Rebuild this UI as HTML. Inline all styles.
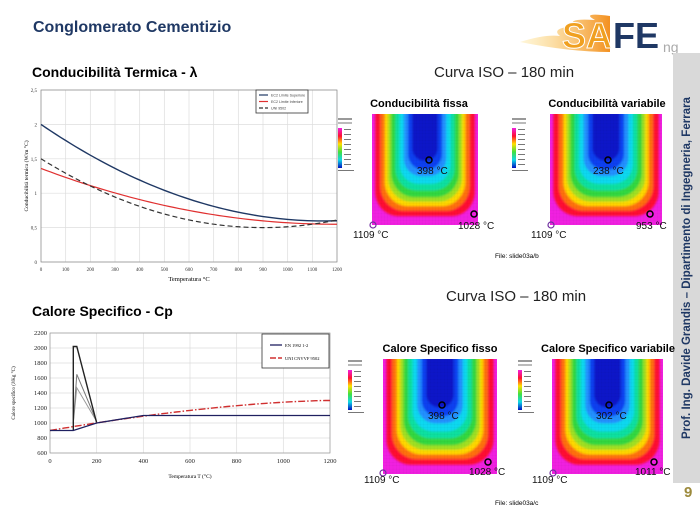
<!DOCTYPE html>
<html><head><meta charset="utf-8">
<style>
body{margin:0;width:700px;height:523px;background:#fff;position:relative;overflow:hidden;font-family:"Liberation Sans",sans-serif}
.a{position:absolute;white-space:nowrap}
.h{font-weight:bold;color:#000}
</style></head><body>
<svg width="0" height="0" style="position:absolute">
<defs>
<filter id="bl" x="-10%" y="-10%" width="120%" height="120%"><feGaussianBlur stdDeviation="0.9"/></filter>
<clipPath id="cp"><rect x="0" y="0" width="100" height="100"/></clipPath>
<pattern id="grid" width="3" height="3" patternUnits="userSpaceOnUse"><path d="M3 0V3H0" fill="none" stroke="#000" stroke-opacity="0.12" stroke-width="0.3"/></pattern>
<g id="hm">
<g clip-path="url(#cp)">
<rect x="0" y="0" width="100" height="100" fill="#f020e0"/>
<g filter="url(#bl)">
<rect x="3" y="-60" width="94" height="152" rx="22" fill="#ff1030"/>
<rect x="8" y="-60" width="84" height="147" rx="22" fill="#ff7010"/>
<rect x="12" y="-60" width="76" height="143" rx="22" fill="#ffd800"/>
<rect x="15" y="-60" width="70" height="139" rx="22" fill="#a0e020"/>
<rect x="18" y="-60" width="64" height="135" rx="22" fill="#30d840"/>
<rect x="22" y="-60" width="56" height="129" rx="20" fill="#10e0a0"/>
<rect x="26" y="-60" width="48" height="123" rx="18" fill="#10d8f0"/>
<rect x="30" y="-60" width="40" height="116" rx="16" fill="#2090ff"/>
<rect x="34" y="-60" width="32" height="110" rx="14" fill="#1040f0"/>
<rect x="38" y="-60" width="24" height="102" rx="11" fill="#0818c8"/>
</g>
<rect x="0" y="0" width="100" height="100" fill="url(#grid)"/>
</g>
</g>
<g id="cb">
<rect x="0" y="0" width="14" height="2" fill="#999"/>
<rect x="0" y="4" width="14" height="2" fill="#bbb"/>
<rect x="0" y="10" width="4" height="40" fill="url(#cbg)"/>
<g fill="#777"><rect x="6" y="11" width="7" height="1"/><rect x="6" y="16" width="7" height="1"/><rect x="6" y="21" width="7" height="1"/><rect x="6" y="26" width="7" height="1"/><rect x="6" y="31" width="7" height="1"/><rect x="6" y="36" width="7" height="1"/><rect x="6" y="41" width="7" height="1"/><rect x="6" y="46" width="7" height="1"/><rect x="0" y="52" width="16" height="1"/></g>
</g>
<linearGradient id="cbg" x1="0" y1="0" x2="0" y2="1"><stop offset="0" stop-color="#f020e0"/><stop offset=".2" stop-color="#ff1030"/><stop offset=".4" stop-color="#ffe000"/><stop offset=".6" stop-color="#40e040"/><stop offset=".8" stop-color="#10d8e8"/><stop offset="1" stop-color="#0010c0"/></linearGradient>
<linearGradient id="fl" x1="0" y1="0" x2="1" y2="0"><stop offset="0" stop-color="#fde080" stop-opacity="0.3"/><stop offset="1" stop-color="#f39020"/></linearGradient>
</defs>
</svg>

<div class="a" style="left:33px;top:19px;font-size:16px;font-weight:bold;color:#1f3864">Conglomerato Cementizio</div>
<svg class="a" style="left:500px;top:8px" width="180" height="50">
<path d="M20 34 Q45 26 60 28 Q50 20 75 18 Q65 10 95 12 Q80 4 110 8 L110 44 Q70 44 20 34Z" fill="url(#fl)"/>
<text x="62" y="40" font-family="Liberation Sans" font-weight="bold" font-size="36" fill="#f0a020" stroke="#fff" stroke-width="1">SA</text>
<text x="113" y="40" font-family="Liberation Sans" font-weight="bold" font-size="36" fill="#1f3864">FE</text>
<text x="163" y="44" font-family="Liberation Sans" font-size="14" fill="#aaa">ng</text>
</svg>

<div class="a" style="left:673px;top:53px;width:27px;height:430px;background:#d9d9d9"></div>
<div class="a" style="left:687px;top:268px;transform:translate(-50%,-50%) rotate(-90deg);font-size:11.5px;font-weight:bold;color:#1f3864">Prof. Ing. Davide Grandis – Dipartimento di Ingegneria, Ferrara</div>
<div class="a" style="left:684px;top:484px;font-size:15px;font-weight:bold;color:#9c8a3c">9</div>

<div class="a h" style="left:32px;top:64px;font-size:14px">Conducibilità Termica - λ</div>
<div class="a h" style="left:32px;top:303px;font-size:14px">Calore Specifico - Cp</div>
<div class="a" style="left:434px;top:64px;font-size:15px;color:#222">Curva ISO – 180 min</div>
<div class="a" style="left:446px;top:288px;font-size:15px;color:#222">Curva ISO – 180 min</div>

<svg class="a" style="left:0;top:80px" width="345" height="205" id="c1"></svg>
<svg class="a" style="left:0;top:325px" width="345" height="165" id="c2"></svg>

<svg class="a" style="left:330px;top:90px" width="345" height="175" font-family="Liberation Sans">
<text x="89" y="17" font-size="11" font-weight="bold" text-anchor="middle">Conducibilità fissa</text>
<text x="277" y="17" font-size="11" font-weight="bold" text-anchor="middle">Conducibilità variabile</text>
<use href="#cb" transform="translate(8,28)"/>
<use href="#hm" transform="translate(42,24) scale(1.06,1.11)"/>
<use href="#cb" transform="translate(182,28)"/>
<use href="#hm" transform="translate(220,24) scale(1.12,1.11)"/>
<g fill="none" stroke="#000" stroke-width="1.5"><circle cx="99" cy="70" r="3"/><circle cx="144" cy="124" r="3"/><circle cx="278" cy="70" r="3"/><circle cx="320" cy="124" r="3"/></g>
<g fill="none" stroke="#7030a0" stroke-width="1.2"><circle cx="43" cy="135" r="3"/><circle cx="221" cy="135" r="3"/></g>
<g font-size="10" fill="#111"><text x="87" y="84">398 °C</text><text x="128" y="139">1028 °C</text><text x="263" y="84">238 °C</text><text x="306" y="139">953 °C</text><text x="23" y="148">1109 °C</text><text x="201" y="148">1109 °C</text></g>
<text x="165" y="168" font-size="6.5">File: slide03a/b</text>
</svg>
<svg class="a" style="left:340px;top:335px" width="335" height="175" font-family="Liberation Sans">
<text x="100" y="17" font-size="11" font-weight="bold" text-anchor="middle">Calore Specifico fisso</text>
<text x="268" y="17" font-size="11" font-weight="bold" text-anchor="middle">Calore Specifico variabile</text>
<use href="#cb" transform="translate(8,25)"/>
<use href="#hm" transform="translate(43,24) scale(1.14,1.15)"/>
<use href="#cb" transform="translate(178,25)"/>
<use href="#hm" transform="translate(212,24) scale(1.11,1.15)"/>
<g fill="none" stroke="#000" stroke-width="1.5"><circle cx="102" cy="70" r="3"/><circle cx="148" cy="127" r="3"/><circle cx="269" cy="70" r="3"/><circle cx="314" cy="127" r="3"/></g>
<g fill="none" stroke="#7030a0" stroke-width="1.2"><circle cx="43" cy="138" r="3"/><circle cx="213" cy="138" r="3"/></g>
<g font-size="10" fill="#111"><text x="88" y="84">398 °C</text><text x="129" y="140">1028 °C</text><text x="256" y="84">302 °C</text><text x="295" y="140">1011 °C</text><text x="24" y="148">1109 °C</text><text x="192" y="148">1109 °C</text></g>
<text x="155" y="170" font-size="6.5">File: slide03a/c</text>
</svg>

<script>
var NS="http://www.w3.org/2000/svg";
function el(s,t,a,txt){var e=document.createElementNS(NS,t);for(var k in a)e.setAttribute(k,a[k]);if(txt!==undefined)e.textContent=txt;s.appendChild(e);return e;}
(function(){
var s=document.getElementById('c1');var x0=41,x1=337,y0=182,y1=10;
function X(t){return x0+(x1-x0)*t/1200}function Y(v){return y0-(y0-y1)*v/2.5}
for(var t=0;t<=1200;t+=100){el(s,'line',{x1:X(t),x2:X(t),y1:y1,y2:y0,stroke:'#ddd','stroke-width':0.7});el(s,'text',{x:X(t),y:y0+9,'font-size':5,'text-anchor':'middle','font-family':'Liberation Serif',fill:'#333'},t);}
for(var v=0;v<=2.5;v+=0.5){el(s,'line',{x1:x0,x2:x1,y1:Y(v),y2:Y(v),stroke:'#ddd','stroke-width':0.7});el(s,'text',{x:x0-4,y:Y(v)+2,'font-size':5,'text-anchor':'end','font-family':'Liberation Serif',fill:'#333'},(v==0?'0':String(v).replace('.',',')));}
el(s,'rect',{x:x0,y:y1,width:x1-x0,height:y0-y1,fill:'none',stroke:'#888','stroke-width':0.7});
function path(f){var d='';for(var t=0;t<=1200;t+=20){d+=(t?'L':'M')+X(t).toFixed(1)+' '+Y(f(t)).toFixed(2);}return d;}
el(s,'path',{d:path(function(t){var u=t/100;return 2-0.2451*u+0.0107*u*u;}),fill:'none',stroke:'#1f3864','stroke-width':1.4});
el(s,'path',{d:path(function(t){var u=t/100;return 1.36-0.136*u+0.0057*u*u;}),fill:'none',stroke:'#e03030','stroke-width':1.2});
el(s,'path',{d:path(function(t){var u=t/100;return 0.5+(u-9)*(u-9)/81;}),fill:'none',stroke:'#333','stroke-width':1.2,'stroke-dasharray':'5,3'});
el(s,'rect',{x:256,y:10,width:52,height:23,fill:'#fff',stroke:'#333','stroke-width':0.8});
var lg=[['#1f3864','EC2 Limite Superiore',''],['#e03030','EC2 Limite Inferiore',''],['#333','UNI 9502','4,2']];
lg.forEach(function(l,i){var y=15+i*6.5;el(s,'line',{x1:259,x2:268,y1:y,y2:y,stroke:l[0],'stroke-width':1.2,'stroke-dasharray':l[2]});el(s,'text',{x:271,y:y+1.5,'font-size':3.6,fill:'#444'},l[1]);});
el(s,'text',{x:(x0+x1)/2,y:y0+19,'font-size':6.5,'text-anchor':'middle','font-family':'Liberation Serif'},'Temperatura °C');
el(s,'text',{x:0,y:0,'font-size':5.5,'text-anchor':'middle','font-family':'Liberation Serif',transform:'translate(28,'+((y0+y1)/2)+') rotate(-90)'},'Conducibilità termica (W/m °C)');
})();
(function(){
var s=document.getElementById('c2');var x0=50,x1=330,y0=128,y1=8;
function X(t){return x0+(x1-x0)*t/1200}function Y(v){return y0-(y0-y1)*(v-600)/1600}
for(var t=0;t<=1200;t+=200){el(s,'line',{x1:X(t),x2:X(t),y1:y1,y2:y0,stroke:'#ddd','stroke-width':0.7});el(s,'text',{x:X(t),y:y0+10,'font-size':6.5,'text-anchor':'middle','font-family':'Liberation Serif',fill:'#222'},t);}
for(var v=600;v<=2200;v+=200){el(s,'line',{x1:x0,x2:x1,y1:Y(v),y2:Y(v),stroke:'#ddd','stroke-width':0.7});el(s,'text',{x:x0-3,y:Y(v)+2,'font-size':6.5,'text-anchor':'end','font-family':'Liberation Serif',fill:'#222'},v);}
el(s,'rect',{x:x0,y:y1,width:x1-x0,height:y0-y1,fill:'none',stroke:'#999','stroke-width':0.7});
function P(a){return a.map(function(p,i){return (i?'L':'M')+X(p[0]).toFixed(1)+' '+Y(p[1]).toFixed(1)}).join('');}
el(s,'path',{d:P([[100,1000],[115,1470],[200,1020]]),fill:'none',stroke:'#999','stroke-width':1});
el(s,'path',{d:P([[100,1000],[115,1650],[200,1020]]),fill:'none',stroke:'#777','stroke-width':1});
el(s,'path',{d:P([[100,900],[100,2020],[115,2020],[200,1000]]),fill:'none',stroke:'#222','stroke-width':1.4});
var d='';for(var t=0;t<=1200;t+=20){var v=900+400*(1-Math.pow(1-t/1200,1.6));d+=(t?'L':'M')+X(t).toFixed(1)+' '+Y(v).toFixed(1);}
el(s,'path',{d:d,fill:'none',stroke:'#d03030','stroke-width':1.4,'stroke-dasharray':'7,2,1.5,2'});
el(s,'path',{d:P([[0,900],[100,900],[200,1000],[400,1100],[1200,1100]]),fill:'none',stroke:'#1f2060','stroke-width':1.3});
el(s,'rect',{x:262,y:9,width:67,height:34,fill:'#fff',stroke:'#333','stroke-width':0.8});
el(s,'line',{x1:270,x2:282,y1:20,y2:20,stroke:'#1f2060','stroke-width':1.3});
el(s,'text',{x:285,y:22,'font-size':4.5,'font-family':'Liberation Serif'},'EN 1992 1-2');
el(s,'line',{x1:270,x2:282,y1:33,y2:33,stroke:'#d03030','stroke-width':1.4,'stroke-dasharray':'6,2'});
el(s,'text',{x:285,y:35,'font-size':4.5,'font-family':'Liberation Serif'},'UNI CNVVF 9502');
el(s,'text',{x:(x0+x1)/2,y:y0+25,'font-size':5.5,'text-anchor':'middle','font-family':'Liberation Serif'},'Temperatura T (°C)');
el(s,'text',{x:0,y:0,'font-size':5,'text-anchor':'middle','font-family':'Liberation Serif',transform:'translate(15,'+((y0+y1)/2)+') rotate(-90)'},'Calore specifico (J/Kg °C)');
})();
</script>
</body></html>
